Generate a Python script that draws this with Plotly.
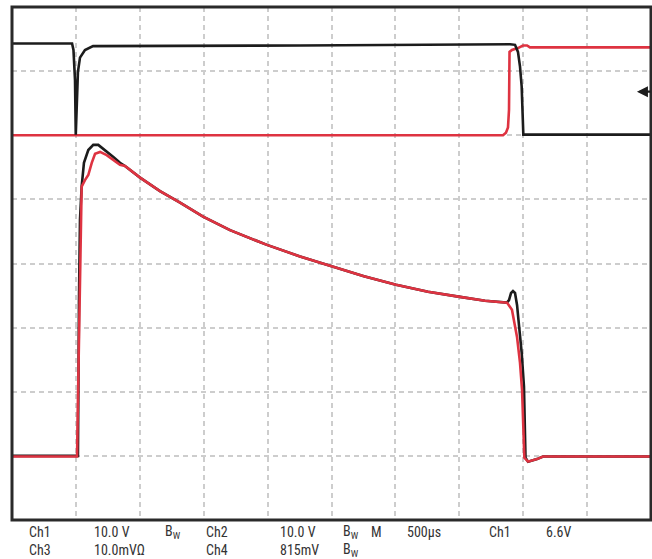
import plotly.graph_objects as go

# Time axis in microseconds (500 us/div, 10 divisions); vertical values in screen divisions (0..8)
ch1_t = [0, 470, 481, 493, 499, 505, 516, 532, 571, 634, 689, 2254, 3897, 3936, 3959, 3975, 3988, 3996, 4001, 5000]
ch1_v = [7.43, 7.43, 7.33, 6.86, 6.01, 6.47, 6.99, 7.21, 7.33, 7.39, 7.39, 7.40, 7.42, 7.41, 7.30, 7.07, 6.76, 6.40, 6.01, 6.01]

ch2_t = [0, 3842, 3865, 3881, 3889, 3893, 3912, 3959, 3998, 4030, 4053, 5000]
ch2_v = [6.00, 6.00, 6.04, 6.12, 6.40, 7.30, 7.33, 7.36, 7.40, 7.40, 7.37, 7.37]

ch3_t = [0, 516, 524, 532, 545, 563, 597, 636, 675, 728, 793, 845, 884, 1002, 1158, 1315, 1495, 1706, 1995,
         2254, 2504, 2754, 3005, 3255, 3505, 3701, 3873, 3889, 3905, 3920, 3936, 3952, 3963, 3988, 4006, 4014,
         4018, 4038, 4108, 4155, 5000]
ch3_v = [1.00, 1.00, 3.43, 4.68, 5.20, 5.57, 5.77, 5.85, 5.85, 5.77, 5.66, 5.57, 5.52, 5.34, 5.13, 4.95, 4.73, 4.52, 4.29,
         4.11, 3.95, 3.80, 3.67, 3.56, 3.48, 3.42, 3.39, 3.43, 3.54, 3.57, 3.54, 3.35, 3.12, 2.61, 2.08, 1.56,
         0.97, 0.91, 0.95, 0.99, 0.99]

ch4_t = [0, 509, 516, 528, 537, 545, 571, 597, 624, 650, 689, 741, 845, 884, 1002, 1158, 1315, 1495, 1706, 1995,
         2254, 2504, 2754, 3005, 3255, 3505, 3701, 3873, 3912, 3952, 3975, 3991, 4001, 4009, 4038, 4108, 4155, 5000]
ch4_v = [0.99, 0.99, 1.87, 3.43, 4.73, 5.20, 5.30, 5.38, 5.57, 5.71, 5.74, 5.69, 5.54, 5.52, 5.34, 5.13, 4.95, 4.73, 4.52, 4.29,
         4.11, 3.95, 3.80, 3.67, 3.56, 3.48, 3.42, 3.39, 3.28, 2.85, 2.45, 2.03, 1.56, 0.97, 0.91, 0.95, 0.99, 0.99]

trigger_t = 4890
trigger_v = 6.68

row1_labels = ["Ch1", "10.0 V", "B<sub>W</sub>", "Ch2", "10.0 V", "B<sub>W</sub>", "M", "500\u00b5s", "Ch1", "6.6V"]
row1_px = [27, 92, 163, 204, 278, 341, 369, 405, 487, 544]
row2_labels = ["Ch3", "10.0mV\u03a9", "Ch4", "815mV", "B<sub>W</sub>"]
row2_px = [27, 92, 204, 278, 341]

BLACK = "#1c1c1c"
RED = "#de3341"

fig = go.Figure()
fig.add_trace(go.Scatter(x=ch2_t, y=ch2_v, mode="lines", line=dict(color=RED, width=2.6), hoverinfo="skip"))
fig.add_trace(go.Scatter(x=ch1_t, y=ch1_v, mode="lines", line=dict(color=BLACK, width=2.6), hoverinfo="skip"))
fig.add_trace(go.Scatter(x=ch3_t, y=ch3_v, mode="lines", line=dict(color=BLACK, width=2.6), hoverinfo="skip"))
fig.add_trace(go.Scatter(x=ch4_t, y=ch4_v, mode="lines", line=dict(color=RED, width=2.6), hoverinfo="skip"))

W, H = 652, 559
L, R, T, B = 12, 1, 7, 39
pw, ph = W - L - R, H - T - B

annotations = []
font = dict(family="Liberation Sans Narrow, Roboto Condensed, Arial Narrow, Liberation Sans, sans-serif",
            size=14, color="#333333")
for lab, px in zip(row1_labels, row1_px):
    annotations.append(dict(text=lab, x=(px - L) / pw, y=(H - B - 532) / ph, xref="paper", yref="paper",
                            xanchor="left", yanchor="middle", showarrow=False, font=font))
for lab, px in zip(row2_labels, row2_px):
    annotations.append(dict(text=lab, x=(px - L) / pw, y=(H - B - 550) / ph, xref="paper", yref="paper",
                            xanchor="left", yanchor="middle", showarrow=False, font=font))
annotations.append(dict(x=trigger_t, y=trigger_v, xref="x", yref="y", text="", showarrow=True,
                        ax=20, ay=0, arrowhead=2, arrowsize=1.0, arrowwidth=2.2, arrowcolor=BLACK, standoff=0))

fig.update_layout(
    width=W, height=H,
    margin=dict(l=L, r=R, t=T, b=B, pad=0),
    paper_bgcolor="white", plot_bgcolor="white",
    showlegend=False,
    xaxis=dict(range=[0, 5000], dtick=500, tick0=0, showticklabels=False, ticks="", zeroline=False,
               showline=False, showgrid=True, gridcolor="#cdcdcd", gridwidth=2, griddash="5px,4px", fixedrange=True),
    yaxis=dict(range=[0, 8], dtick=1, tick0=0, showticklabels=False, ticks="", zeroline=False,
               showline=False, showgrid=True, gridcolor="#cdcdcd", gridwidth=2, griddash="5px,4px", fixedrange=True),
    annotations=annotations,
    shapes=[dict(type="rect", xref="paper", yref="paper", x0=0, x1=1, y0=0, y1=1,
                 line=dict(color="#2a2a2a", width=3), layer="above")],
)

fig.write_html("out.html", config={"displayModeBar": False},
               post_script="document.body.style.margin='0';document.body.style.overflow='hidden';")
